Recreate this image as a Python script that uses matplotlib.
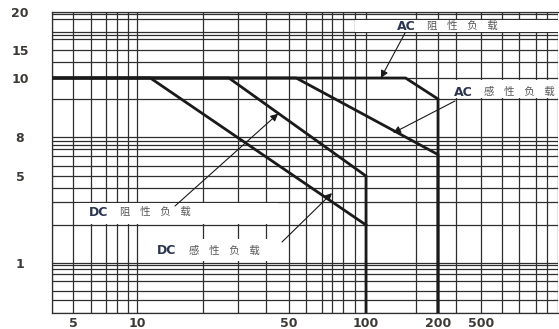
import numpy as np
import matplotlib.pyplot as plt
from matplotlib.patches import Rectangle

# grid lines of the (uneven, hand drawn) log chart: value and pixel position
x_grid = [4, 5, 6, 7, 8, 9, 10, 20, 30, 40, 50, 60, 70, 75, 80, 90, 100,
          160, 200, 300, 500, 700, 1000, 1500, 2000, 2500]
x_px = [52, 73, 91, 106, 117, 128, 137, 203, 238, 266, 289, 306, 322, 332,
        343, 355, 366, 416, 438, 456, 481, 502, 519, 536, 547, 558]
y_grid = [0.3, 0.4, 0.5, 0.6, 0.7, 0.8, 0.9, 1, 2, 3, 4, 5, 5.5, 6, 6.5,
          7, 7.5, 8, 9, 10, 12.5, 15, 16.5, 17, 17.5, 19, 19.5, 20]
y_px = [313, 300, 291, 281, 274, 269, 265, 263, 225, 202, 188, 176, 166,
        156, 149, 145, 141, 137, 99, 78, 62, 50, 39, 35, 32, 19, 14, 12]

x_ticks = [5, 10, 50, 100, 200, 500]
y_ticks = [1, 5, 8, 10, 15, 20]

# load curves
ac_res_x = [4, 145, 200, 200]
ac_res_y = [10, 10, 9, 0.3]
ac_ind_x = [4, 54, 200, 200]
ac_ind_y = [10, 10, 6.1, 0.3]
dc_res_x = [4, 27, 100, 100]
dc_res_y = [10, 10, 5, 0.3]
dc_ind_x = [4, 11.5, 100]
dc_ind_y = [10, 10, 2]

prefixes = ['AC', 'AC', 'DC', 'DC']
names = ['阻性负载', '感性负载', '阻性负载', '感性负载']
arrow_tips = [(115, 10), (129, 8.1), (45, 8.6), (75, 3.6)]


def make_scale(vals, pos):
    lv = np.log10(vals)
    pos = np.asarray(pos, float)
    fwd = lambda v: np.interp(np.log10(np.clip(v, 1e-9, None)), lv, pos)
    inv = lambda p: 10 ** np.interp(p, pos, lv)
    return fwd, inv


L, R, T, B = 52, 558, 12, 313
W, H = 559, 329
xpos = (np.array(x_px) - L) / (R - L)
ypos = (B - np.array(y_px)) / (B - T)


def fx(px):
    return (px - L) / (R - L)


def fy(py):
    return (B - py) / (B - T)


fig = plt.figure(figsize=(W / 100, H / 100), dpi=100)
ax = fig.add_axes([L / W, (H - B) / H, (R - L) / W, (B - T) / H])
ax.set_xscale('function', functions=make_scale(x_grid, xpos))
ax.set_yscale('function', functions=make_scale(y_grid, ypos))
ax.set_xlim(x_grid[0], x_grid[-1])
ax.set_ylim(y_grid[0], y_grid[-1])

ax.set_xticks(x_grid, minor=True)
ax.set_yticks(y_grid, minor=True)
ax.set_xticks(x_ticks)
ax.set_xticklabels([str(v) for v in x_ticks])
ax.set_yticks(y_ticks)
ax.set_yticklabels([str(v) for v in y_ticks])
ax.tick_params(which='both', length=0)
ax.tick_params(axis='x', pad=3, labelsize=9, labelcolor='#3d3a36')
ax.tick_params(axis='y', pad=23, labelsize=9, labelcolor='#3d3a36')
for t in ax.get_xticklabels() + ax.get_yticklabels():
    t.set_fontweight('bold')
for t in ax.get_yticklabels():
    t.set_ha('center')

ax.set_axisbelow(True)
ax.grid(which='both', color='#2e2e2e', lw=0.9)
for s in ['left', 'bottom', 'top']:
    ax.spines[s].set_color('#2e2e2e')
    ax.spines[s].set_linewidth(0.9)
ax.spines['right'].set_visible(False)

# white bands behind the labels (px boxes: x0, x1, y0, y1)
bands = [(355, 558, 20, 32), (441, 558, 80, 98),
         (75, 278, 203, 224), (145, 278, 239, 261)]
for x0, x1, y0, y1 in bands:
    ax.add_patch(Rectangle((fx(x0), fy(y1)), (x1 - x0) / (R - L),
                           (y1 - y0) / (B - T), transform=ax.transAxes,
                           color='white', lw=0, zorder=1))

for xs, ys in [(ac_res_x, ac_res_y), (ac_ind_x, ac_ind_y),
               (dc_res_x, dc_res_y), (dc_ind_x, dc_ind_y)]:
    ax.plot(xs, ys, color='#1a1a1a', lw=2.0, zorder=3,
            solid_joinstyle='miter')

# label positions (prefix centre, name left edge, centre height) and arrow starts in px
prefix_px = [406, 463, 99, 167]
name_px = [427, 484, 120, 189]
text_py = [26, 92, 212, 251]
start_px = [(405, 33), (455, 101), (175, 206), (282, 242)]
for pre, name, px0, px1, py, (sx, sy), tip in zip(
        prefixes, names, prefix_px, name_px, text_py, start_px, arrow_tips):
    ax.text(fx(px0), fy(py), pre, transform=ax.transAxes, ha='center',
            va='center', fontsize=9, fontweight='bold', color='#2b3550',
            zorder=4)
    ax.text(fx(px1), fy(py), '   '.join(name), transform=ax.transAxes,
            ha='left', va='center', fontsize=7.5, color='#555555',
            family=['DejaVu Sans', 'Noto Sans CJK SC'], zorder=4)
    ax.annotate('', xy=tip, xycoords='data',
                xytext=(fx(sx), fy(sy)), textcoords='axes fraction',
                arrowprops=dict(arrowstyle='-|>', color='#1a1a1a', lw=0.8,
                                mutation_scale=11, shrinkA=0, shrinkB=0),
                zorder=4)

fig.savefig('out.png', dpi=100)
